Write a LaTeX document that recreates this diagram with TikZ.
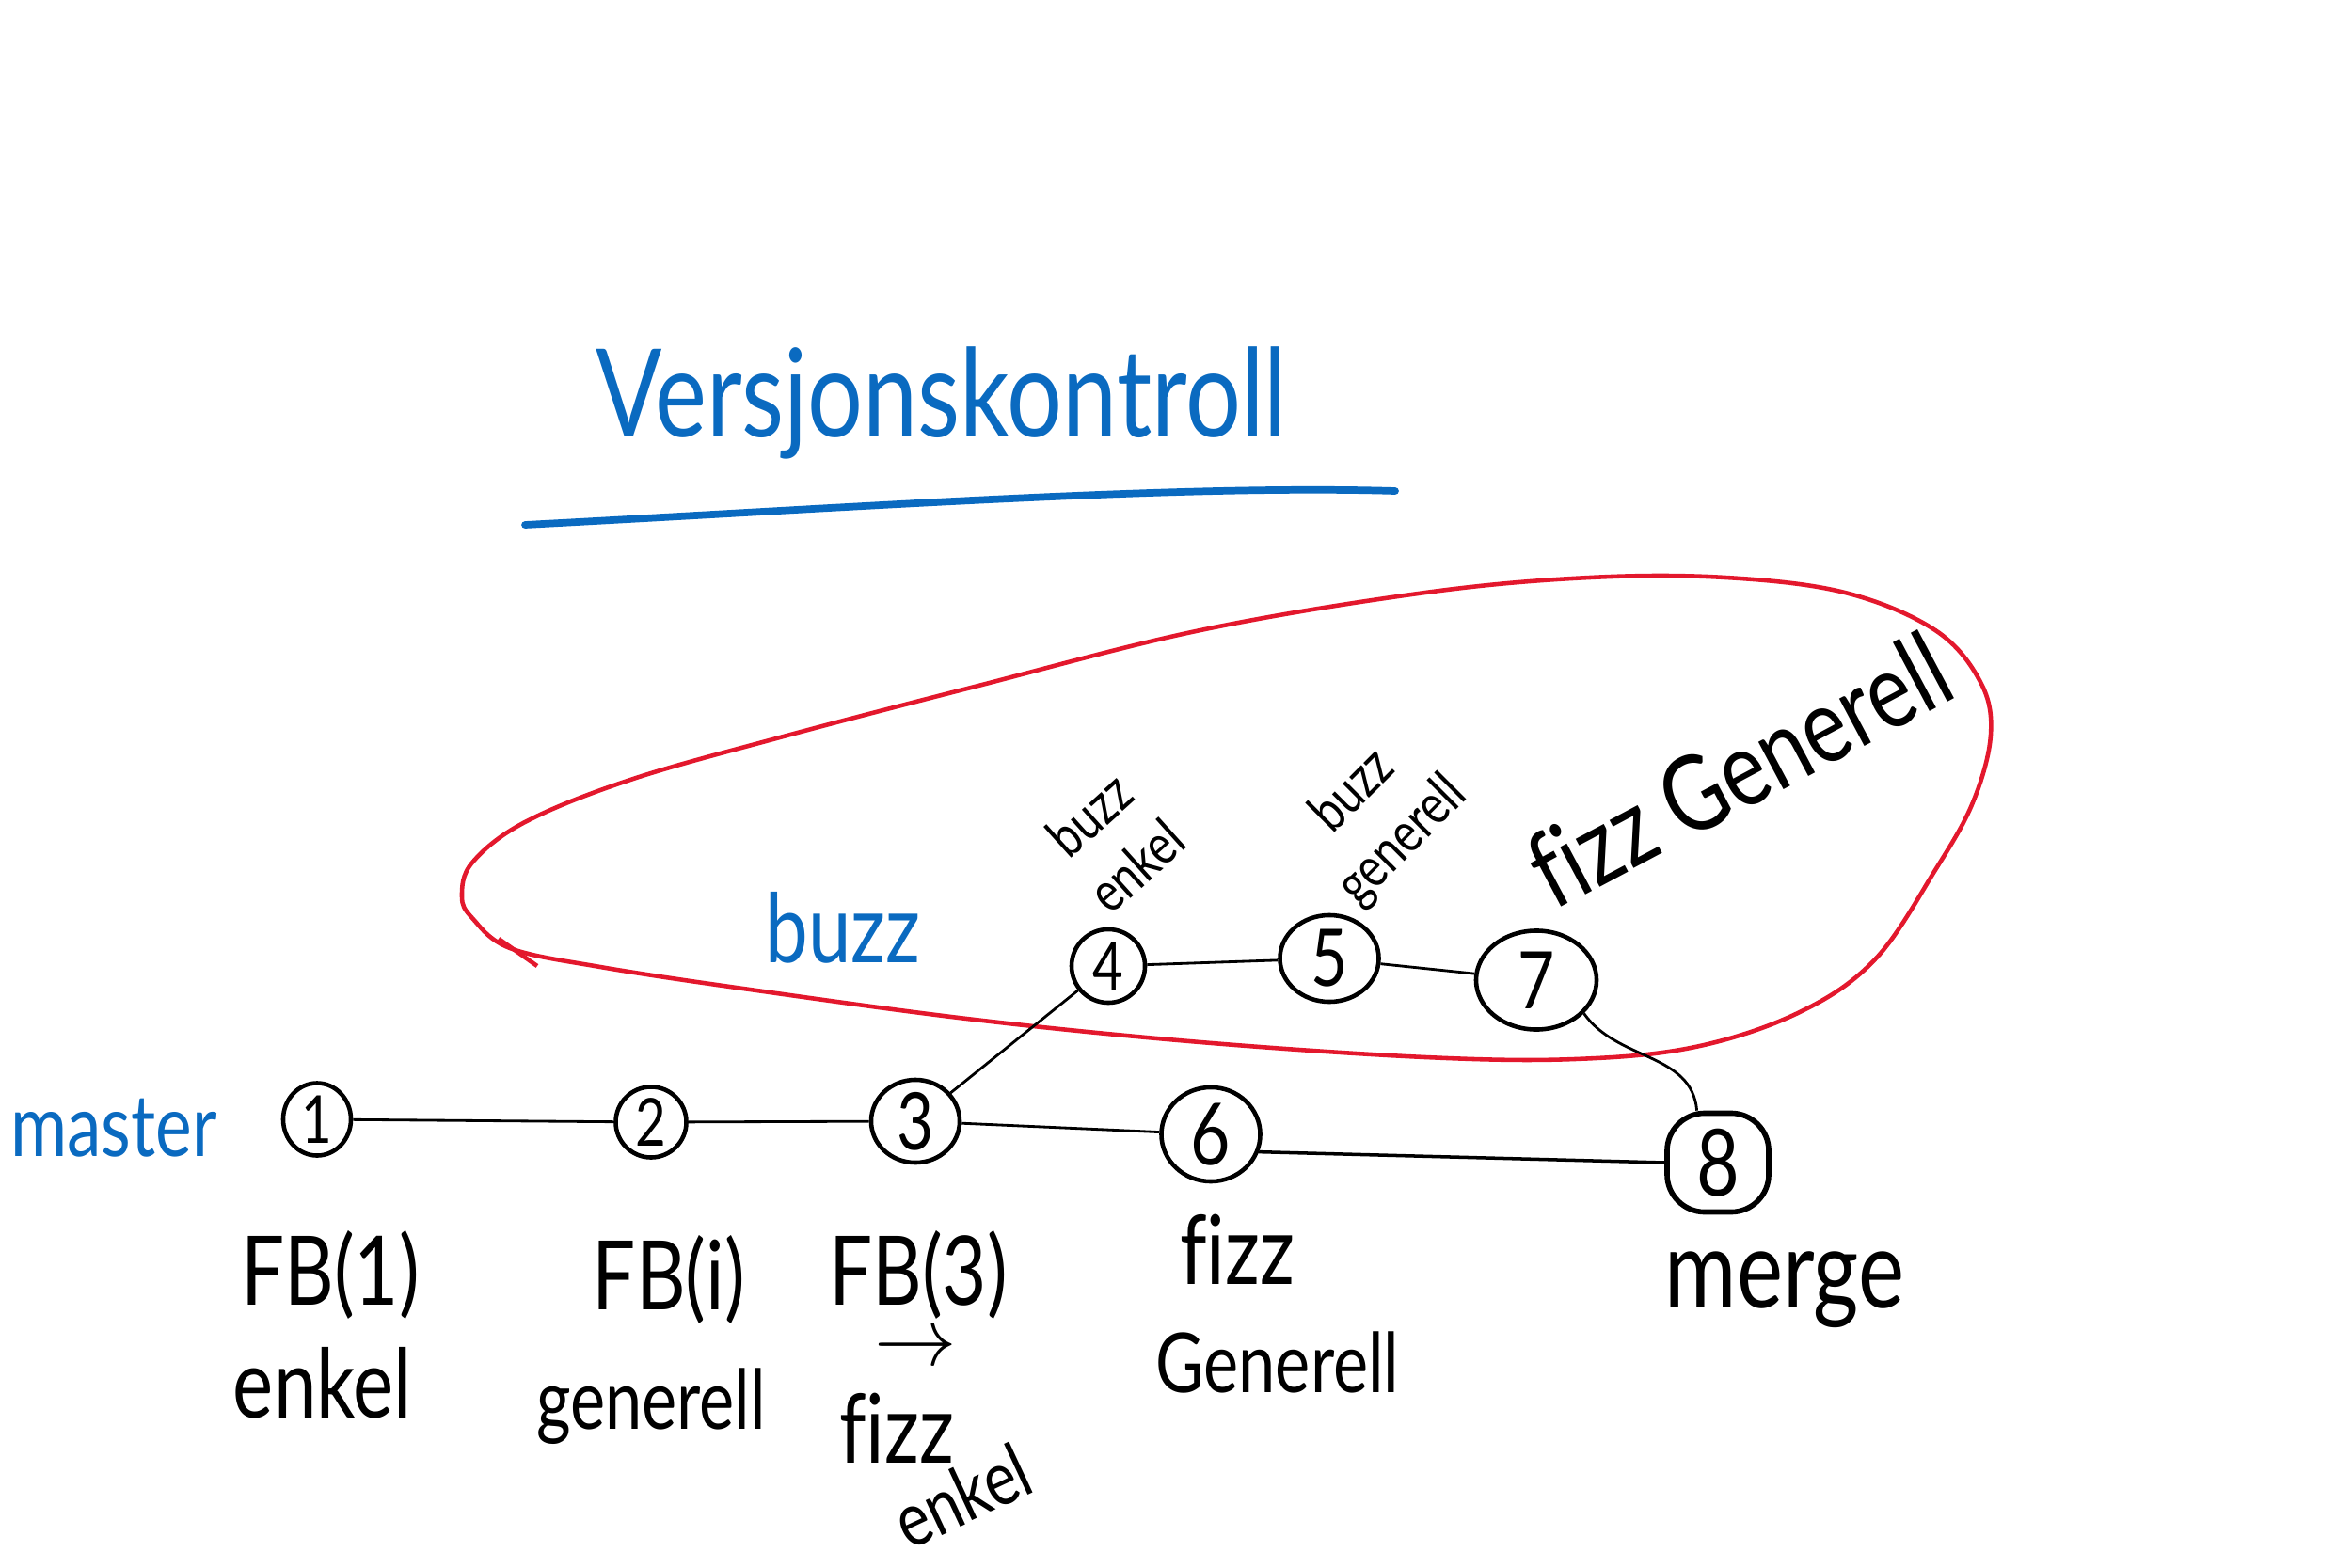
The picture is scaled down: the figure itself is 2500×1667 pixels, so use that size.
\documentclass[tikz,border=0pt]{standalone}
\usepackage{fontspec}
\setmainfont{Lato}[FakeStretch=0.8, Ligatures=NoCommon]
\usetikzlibrary{shapes.geometric}
\definecolor{inkblue}{HTML}{0A6AC0}
\definecolor{inkred}{HTML}{E3182D}
\begin{document}
\begin{tikzpicture}[x=0.01cm,y=-0.01cm,
  commit/.style={draw, ellipse, line width=1.3pt, inner sep=0pt},
  conn/.style={line width=0.8pt},
  hand/.style={font=\fontsize{29}{32}\selectfont, inner sep=0pt},
  small/.style={font=\fontsize{17}{21}\selectfont, inner sep=0pt, align=center},
  bluetext/.style={text=inkblue, inner sep=0pt}]
\useasboundingbox (0,0) rectangle (2500,1667);

% title
\node[bluetext, font=\fontsize{37}{40}\selectfont] (title) at (1001,428) {Versjonskontroll};
\draw[inkblue, line width=2.2pt, line cap=round] (558,558) .. controls (900,540) and (1250,515) .. (1483,522);

% red loop
\draw[inkred, line width=1.3pt] plot[smooth cycle, tension=0.6] coordinates {
 (491,953) (502,917) (558,874) (670,829) (829,784) (1036,730) (1276,670)
 (1515,630) (1690,614) (1834,614) (1961,630) (2057,670) (2105,725) (2116,781)
 (2097,853) (2057,925) (1993,1020) (1913,1076) (1802,1113) (1674,1126)
 (1515,1124) (1276,1108) (1036,1084) (797,1052) (638,1028) (542,1008) (502,976)};
\draw[inkred, line width=1.3pt] (530,998) -- (571,1027);

% branch labels
\node[bluetext, font=\fontsize{26}{28}\selectfont] (master) at (121,1199) {master};
\node[bluetext, font=\fontsize{29}{30}\selectfont] (buzz) at (896,986) {buzz};

% commits
\node[commit, minimum width=0.72cm, minimum height=0.77cm, font=\fontsize{20}{20}\selectfont] (n1) at (337,1190) {1};
\node[commit, minimum width=0.75cm, minimum height=0.75cm, font=\fontsize{20}{20}\selectfont] (n2) at (692,1193) {2};
\node[commit, minimum width=0.94cm, minimum height=0.88cm, font=\fontsize{24}{24}\selectfont] (n3) at (973,1192) {3};
\node[commit, minimum width=0.78cm, minimum height=0.78cm, font=\fontsize{20}{20}\selectfont] (n4) at (1178,1027) {4};
\node[commit, minimum width=1.05cm, minimum height=0.92cm, font=\fontsize{24}{24}\selectfont] (n5) at (1413,1019) {5};
\node[commit, minimum width=1.05cm, minimum height=1.0cm, font=\fontsize{26}{26}\selectfont] (n6) at (1287,1206) {6};
\node[commit, minimum width=1.28cm, minimum height=1.05cm, font=\fontsize{24}{24}\selectfont] (n7) at (1633,1042) {7};
\node[draw, rounded corners=0.4cm, line width=1.6pt, minimum width=1.08cm, minimum height=1.05cm, inner sep=0pt, font=\fontsize{28}{28}\selectfont] (n8) at (1826,1236) {8};

% connectors
\draw[conn] (n1) -- (n2);
\draw[conn] (n2) -- (n3);
\draw[conn] (n3) -- (n6);
\draw[conn] (n3) -- (n4);
\draw[conn] (n4) -- (n5);
\draw[conn] (n5) -- (n7);
\draw[conn, line width=1pt] (n6.-20) -- (n8.180);
\draw[conn] (n7.-35) to[out=-55,in=95] (n8.112);

% labels below master commits
\node[hand] (l1a) at (351,1355) {FB(1)};
\node[hand] (l1b) at (343,1470) {enkel};
\node[hand] (l2a) at (711,1360) {FB(i)};
\node[hand, font=\fontsize{25}{28}\selectfont] (l2b) at (692,1495) {generell};
\node[hand] (l3a) at (976,1355) {FB(3)};
\node[hand] (l3arrow) at (973,1435) {$\rightarrow$};
\node[hand] (l3b) at (953,1518) {fizz};
\node[hand, font=\fontsize{23}{26}\selectfont, rotate=25] (l3c) at (1022,1590) {enkel};
\node[hand] (l6a) at (1315,1328) {fizz};
\node[hand, font=\fontsize{25}{28}\selectfont] (l6b) at (1358,1448) {Generell};
\node[hand, font=\fontsize{33}{34}\selectfont] (l8) at (1897,1371) {merge};

% labels above buzz commits
\node[small, rotate=42] (l4) at (1183,893) {buzz\\enkel};
\node[small, rotate=45] (l5) at (1465,868) {buzz\\generell};
\node[hand, font=\fontsize{32}{32}\selectfont, rotate=28] (l7) at (1848,818) {fizz Generell};
\end{tikzpicture}
\end{document}
